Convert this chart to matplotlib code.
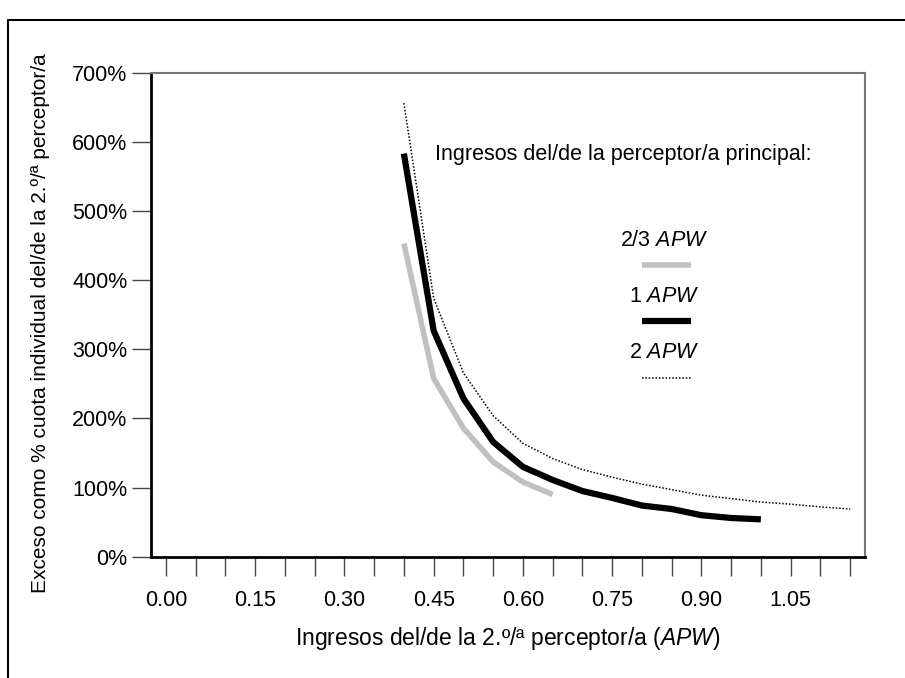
import matplotlib
matplotlib.use("Agg")
import matplotlib.pyplot as plt
from matplotlib.lines import Line2D
from matplotlib.ticker import FixedLocator, FuncFormatter

# second earner income (APW units) and excess as % of individual quota
x_23 = [0.40, 0.45, 0.50, 0.55, 0.60, 0.65]
y_23 = [453, 258, 186, 137, 108, 90]

x_1 = [0.40, 0.45, 0.50, 0.55, 0.60, 0.65, 0.70, 0.75, 0.80, 0.85, 0.90, 0.95, 1.00]
y_1 = [583, 327, 229, 166, 130, 111, 95, 85, 74, 69, 60, 56, 54]

x_2 = [0.40, 0.45, 0.50, 0.55, 0.60, 0.65, 0.70, 0.75, 0.80, 0.85, 0.90, 0.95, 1.00,
       1.05, 1.10, 1.15]
y_2 = [656, 374, 266, 204, 164, 142, 126, 115, 105, 97, 89, 84, 79, 76, 72, 69]

x_ticks = [i * 0.05 for i in range(24)]
y_ticks = [0, 100, 200, 300, 400, 500, 600, 700]

FONT = ["Liberation Sans", "DejaVu Sans"]
plt.rcParams["font.family"] = FONT
plt.rcParams["mathtext.fontset"] = "custom"
plt.rcParams["mathtext.it"] = "Liberation Sans:italic"
plt.rcParams["mathtext.rm"] = "Liberation Sans"

fig = plt.figure(figsize=(9.05, 6.78), dpi=100)
ax = fig.add_axes([151 / 905, 1 - 556.7 / 678, (865 - 151) / 905, (556.7 - 72.7) / 678])

ax.plot(x_23, y_23, color="#c0c0c0", lw=4, solid_capstyle="butt")
ax.plot(x_1, y_1, color="black", lw=4.5, solid_capstyle="butt")
ax.plot(x_2, y_2, color="black", lw=1.1, ls=(0, (1, 1.2)))

ax.set_xlim(-0.025, 1.175)
ax.set_ylim(0, 700)

ax.xaxis.set_major_locator(FixedLocator(x_ticks))
ax.xaxis.set_major_formatter(
    FuncFormatter(lambda v, p: f"{v:.2f}" if p % 3 == 0 else ""))
ax.set_yticks(y_ticks)
ax.set_yticklabels([f"{v}%" for v in y_ticks])
ax.tick_params(axis="both", direction="out", length=14, width=1, color="#444444",
               labelsize=15.5)
ax.tick_params(axis="y", pad=3)
ax.tick_params(axis="x", pad=10)

for side in ("top", "right"):
    ax.spines[side].set_color("#777777")
    ax.spines[side].set_linewidth(1.5)
for side in ("left", "bottom"):
    ax.spines[side].set_color("black")
    ax.spines[side].set_linewidth(2)

ax.set_xlabel("Ingresos del/de la 2.º/ª perceptor/a ($\\it{APW}$)",
              fontsize=16.5, labelpad=10)
ax.set_ylabel("Exceso como % cuota individual del/de la 2.º/ª perceptor/a",
              fontsize=15)
ax.yaxis.set_label_coords(-0.141, 0.483)

# inline key
ax.text(0.453, 581, "Ingresos del/de la perceptor/a principal:",
        fontsize=15.5, ha="left", va="center")
key = [("2/3 ", dict(color="#c0c0c0", lw=4)),
       ("1 ", dict(color="black", lw=4.5)),
       ("2 ", dict(color="black", lw=1.1, ls=(0, (1, 1.2))))]
lab_y = [458, 376, 295]
line_y = [422, 341, 259]
for (txt, style), ty, ly in zip(key, lab_y, line_y):
    ax.text(0.837, ty, txt + "$\\it{APW}$", fontsize=15.5,
            ha="center", va="center")
    ax.add_line(Line2D([0.801, 0.882], [ly, ly], solid_capstyle="butt", **style))

# outer frame around the figure
fig.add_artist(Line2D([8 / 905, 8 / 905, 1], [0, 1 - 20 / 678, 1 - 20 / 678],
                      transform=fig.transFigure, color="black", lw=1.5))

fig.savefig("out.png", dpi=100)
